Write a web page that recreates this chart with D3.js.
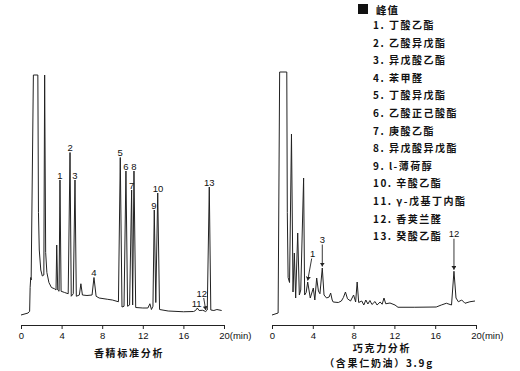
<!DOCTYPE html>
<html>
<head>
<meta charset="utf-8">
<script src="https://cdn.jsdelivr.net/npm/d3@7"></script>
<style>
  body { margin: 0; background: #fff; }
</style>
</head>
<body>
<svg id="chart" width="520" height="371"></svg>
<script>
// x axis ticks (min)
const ticks = [0, 4, 8, 12, 16, 20];

// legend: peak compounds
const compoundNames = ["丁酸乙酯", "乙酸异戊酯", "异戊酸乙酯", "苯甲醛", "丁酸异戊酯",
  "乙酸正己酸酯", "庚酸乙酯", "异戊酸异戊酯", "l-薄荷醇", "辛酸乙酯",
  "γ-戊基丁内酯", "香荚兰醛", "癸酸乙酯"];

// standard flavour chromatogram, [time (min), signal]
const standardTrace = [
  [0, 4], [0.7, 4.8], [0.85, 5.5], [0.9, 15], [0.96, 19], [1.0, 18], [1.22, 100], [1.66, 100],
  [1.72, 45], [1.8, 30], [1.95, 22], [2.1, 19.6], [2.25, 20], [2.33, 100], [2.43, 29], [2.55, 21],
  [2.75, 17], [3.0, 15], [3.3, 14.5], [3.45, 14], [3.52, 32], [3.62, 14], [3.75, 13.5], [3.84, 58],
  [3.95, 13.5], [4.3, 13], [4.65, 12.5], [4.83, 69], [4.95, 11.5], [5.15, 12.5], [5.32, 58],
  [5.45, 11.5], [5.75, 12], [5.9, 16.5], [6.05, 12], [6.5, 11.8], [7.0, 12], [7.19, 19], [7.4, 11.5],
  [7.7, 10.8], [8.5, 10.3], [9.0, 10], [9.6, 9.3], [9.78, 67], [9.95, 7.2], [10.15, 7.5],
  [10.34, 61.6], [10.5, 7.5], [10.7, 8], [10.9, 54], [11.0, 8], [11.13, 61.6], [11.3, 7],
  [12.0, 6.8], [12.5, 6.8], [12.7, 8.5], [12.85, 6.2], [13.0, 7.5], [13.13, 46], [13.28, 9],
  [13.47, 52.8], [13.65, 6.2], [14.5, 5.6], [16.0, 5.3], [17.0, 5.4], [17.2, 5.8], [17.37, 6.8],
  [17.55, 5.8], [17.9, 5.9], [18.2, 5.4], [18.35, 6], [18.55, 55.2], [18.7, 6], [19.0, 5.8],
  [19.3, 6.2], [19.77, 5.8]
];

// chocolate chromatogram, [time (min), signal]
const chocolateTrace = [
  [0, 4], [0.6, 4.8], [0.75, 101.2], [1.45, 101.2], [1.5, 45], [1.58, 19], [1.72, 17], [1.91, 76.4],
  [2.06, 13.2], [2.19, 28.8], [2.32, 10.8], [2.52, 36.8], [2.68, 12], [2.82, 14], [3.1, 58.8],
  [3.2, 12], [3.35, 13], [3.5, 17.2], [3.75, 10.8], [4.05, 14.8], [4.2, 10], [4.38, 18.8],
  [4.55, 13.6], [4.7, 12.5], [4.93, 22.8], [5.1, 12], [5.35, 10.8], [5.6, 11.2], [5.75, 12.8],
  [5.9, 10], [6.0, 9.2], [6.5, 9], [6.8, 9.6], [7.0, 11], [7.2, 13.2], [7.4, 10.5], [7.7, 9.6],
  [8.0, 12], [8.2, 9.2], [8.35, 17.2], [8.5, 9], [8.8, 9.6], [9.0, 8], [9.2, 10], [9.4, 8.4],
  [9.6, 9.8], [9.8, 8.2], [10.1, 9.4], [10.3, 8], [10.6, 9.2], [10.8, 8.3], [10.98, 10.8],
  [11.15, 8.5], [11.57, 8.8], [12.06, 8], [12.35, 7.1], [14.0, 7.1], [16.1, 7.2], [16.6, 8],
  [17.1, 8.7], [17.6, 8], [17.84, 21.5], [18.04, 10.8], [18.27, 9.3], [18.6, 10], [18.92, 8.7],
  [19.4, 9.3], [19.9, 9.6]
];

// peak labels: [label, time, apex signal]
const standardLabels = [
  ["1", 3.84, 58], ["2", 4.83, 69], ["3", 5.32, 58], ["4", 7.19, 19], ["5", 9.78, 67],
  ["6", 10.34, 61.6], ["7", 10.9, 54], ["8", 11.13, 61.6], ["9", 13.1, 46], ["10", 13.5, 52.8],
  ["11", 17.3, 6.8], ["12", 18.2, 5.4], ["13", 18.55, 55.2]
];
const chocolateLabels = [["1", 3.5, 17.2], ["3", 4.93, 22.8], ["12", 17.84, 21.5]];

const svg = d3.select("#chart");
const lineColor = "#222";
const textColor = "#111";
const numFont = "'Liberation Sans', Arial, sans-serif";
const cjkFont = "'Noto Sans CJK SC', sans-serif";

// arrowhead
svg.append("defs").append("marker")
    .attr("id", "arrow")
    .attr("viewBox", "0 0 6 8")
    .attr("refX", 6).attr("refY", 4)
    .attr("markerWidth", 4).attr("markerHeight", 5)
    .attr("markerUnits", "userSpaceOnUse")
    .attr("orient", "auto")
  .append("path")
    .attr("d", "M0,0L6,4L0,8Z")
    .attr("fill", lineColor);

// draw one chromatogram panel
function drawPanel(trace, labels, x0, x1, arrowed) {
  const x = d3.scaleLinear().domain([0, 20]).range([x0, x1]);
  const y = d3.scaleLinear().domain([0, 100]).range([325, 75]);
  const g = svg.append("g");

  const axis = g.append("g")
      .attr("transform", "translate(0,325)")
      .call(d3.axisBottom(x).tickValues(ticks).tickSize(4).tickSizeOuter(0));
  axis.select(".domain").attr("stroke", lineColor);
  axis.selectAll(".tick line").attr("stroke", lineColor);
  axis.selectAll(".tick text")
      .attr("font-family", numFont)
      .attr("font-size", 9.5)
      .attr("fill", textColor);
  axis.selectAll(".tick").filter(d => d === 20).select("text")
      .text("20(min)")
      .attr("text-anchor", "start")
      .attr("x", -5.3);

  g.append("path")
      .datum(trace)
      .attr("fill", "none")
      .attr("stroke", lineColor)
      .attr("stroke-width", 1)
      .attr("stroke-linejoin", "round")
      .attr("d", d3.line().x(d => x(d[0])).y(d => y(d[1])));

  labels.forEach(([lab, t, v]) => {
    const px = x(t), py = y(v);
    const off = arrowed[lab];
    let tx = px, ty = py - 1.5;
    if (off) {
      tx = px + off.dx;
      ty = py + off.dy;
      g.append("line")
          .attr("x1", tx + (off.lx || 0)).attr("y1", ty + 1.5)
          .attr("x2", px).attr("y2", py - 1.5)
          .attr("stroke", lineColor)
          .attr("stroke-width", 0.9)
          .attr("marker-end", "url(#arrow)");
    }
    g.append("text")
        .attr("x", tx).attr("y", ty)
        .attr("text-anchor", "middle")
        .attr("font-family", numFont)
        .attr("font-size", 9.5)
        .attr("fill", textColor)
        .text(lab);
  });
}

drawPanel(standardTrace, standardLabels, 21, 224, { "12": { dx: -4, dy: -15, lx: 2 } });
drawPanel(chocolateTrace, chocolateLabels, 272, 476,
  { "1": { dx: 5, dy: -25, lx: -1 }, "3": { dx: 0, dy: -25 }, "12": { dx: 0, dy: -34 } });

// panel titles
function title(str, cx, yBase) {
  svg.append("text")
      .attr("x", cx).attr("y", yBase)
      .attr("text-anchor", "middle")
      .attr("font-family", cjkFont)
      .attr("font-size", 10)
      .attr("font-weight", "bold")
      .attr("letter-spacing", "1.7px")
      .attr("fill", textColor)
      .text(str);
}
title("香精标准分析", 129, 357);
title("巧克力分析", 382, 352);
title("（含果仁奶油）3.9g", 379, 367);

// legend
const legend = svg.append("g");
legend.append("rect")
    .attr("x", 358).attr("y", 4).attr("width", 10).attr("height", 10)
    .attr("fill", textColor);
legend.append("text")
    .attr("x", 376).attr("y", 13.5)
    .attr("font-family", cjkFont)
    .attr("font-size", 10.5)
    .attr("font-weight", "bold")
    .attr("letter-spacing", "1px")
    .attr("fill", textColor)
    .text("峰值");
legend.selectAll("text.item")
    .data(compoundNames)
    .join("text")
    .attr("class", "item")
    .attr("x", 373)
    .attr("y", (d, i) => 29 + i * 17.6)
    .attr("font-family", cjkFont)
    .attr("font-size", 10)
    .attr("font-weight", "bold")
    .attr("letter-spacing", "1.5px")
    .attr("fill", textColor)
    .text((d, i) => `${i + 1}. ${d}`);
</script>
</body>
</html>
